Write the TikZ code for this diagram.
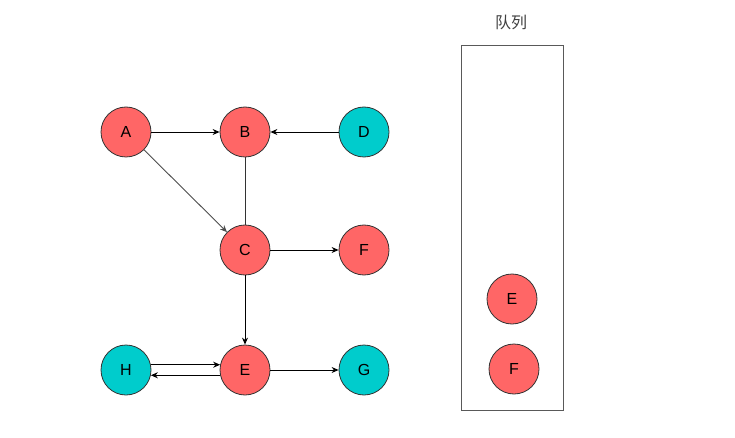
\documentclass[tikz,border=0pt]{standalone}
\usepackage{fontspec}
\setmainfont{Liberation Sans}
\newfontfamily\cjk{Noto Sans CJK SC}
\usetikzlibrary{arrows.meta}

\begin{document}
\begin{tikzpicture}[x=1pt,y=-1pt,
    vertex/.style={circle, draw=black!80, line width=0.8pt, minimum size=50pt, inner sep=0pt, font=\fontsize{16}{18}\selectfont},
    edge/.style={line width=0.9pt, -{Stealth[length=7pt,width=6pt]}}]
    % Define node colors
    \definecolor{visitred}{RGB}{255, 102, 102}
    \definecolor{freeteal}{RGB}{0, 204, 204}

    \useasboundingbox (0,0) rectangle (735,438);

    % Graph vertices
    \node[vertex, fill=visitred] (A) at (126,132) {A};
    \node[vertex, fill=visitred] (B) at (245,132) {B};
    \node[vertex, fill=freeteal] (D) at (364,132) {D};
    \node[vertex, fill=visitred] (C) at (245,250) {C};
    \node[vertex, fill=visitred] (F) at (364,250) {F};
    \node[vertex, fill=freeteal] (H) at (126,370) {H};
    \node[vertex, fill=visitred] (E) at (245,370) {E};
    \node[vertex, fill=freeteal] (G) at (364,370) {G};

    % Edges
    \draw[edge] (A) -- (B);
    \draw[edge] (D) -- (B);
    \draw[edge, draw=black!70] (A) -- (C);
    \draw[line width=0.9pt, black!80] (B) -- (C);
    \draw[edge] (C) -- (F);
    \draw[edge] (C) -- (E);
    \draw[edge] (E) -- (G);
    \draw[edge] (H.12) -- (E.168);
    \draw[edge] (E.192) -- (H.348);

    % Queue
    \node[font=\cjk\fontsize{16}{18}\selectfont, text=black!75] (title) at (511,22) {队列};
    \draw[line width=0.9pt, black!65] (461,45) rectangle (563,410);
    \node[vertex, fill=visitred] (qE) at (512,299) {E};
    \node[vertex, fill=visitred] (qF) at (514,369) {F};
\end{tikzpicture}
\end{document}
